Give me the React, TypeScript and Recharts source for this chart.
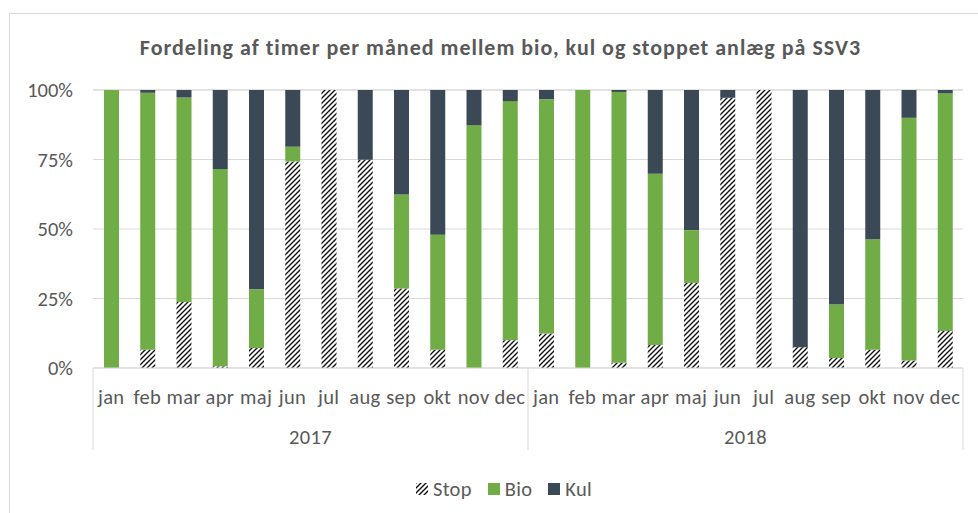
import React from 'react';
import {
  BarChart,
  Bar,
  XAxis,
  YAxis,
  CartesianGrid,
  Legend,
} from 'recharts';

const months = ['jan', 'feb', 'mar', 'apr', 'maj', 'jun', 'jul', 'aug', 'sep', 'okt', 'nov', 'dec'];
const years = ['2017', '2018'];

// andel af timer i procent pr. måned
const stop2017 = [0, 6.6, 23.7, 0.6, 7.2, 74.3, 100, 74.9, 28.6, 6.6, 0, 10.0];
const bio2017 = [100, 92.4, 73.6, 71.0, 21.1, 5.3, 0, 0, 33.8, 41.3, 87.3, 86.0];
const kul2017 = [0, 1.0, 2.7, 28.4, 71.7, 20.4, 0, 25.1, 37.6, 52.1, 12.7, 4.0];

const stop2018 = [12.4, 0, 1.9, 8.3, 30.6, 97.2, 100, 7.5, 3.6, 6.6, 2.7, 13.3];
const bio2018 = [84.3, 100, 97.4, 61.6, 19.0, 0, 0, 0, 19.2, 39.7, 87.3, 85.5];
const kul2018 = [3.3, 0, 0.7, 30.1, 50.4, 2.8, 0, 92.5, 77.2, 53.7, 10.0, 1.2];

const yTicks = [0, 25, 50, 75, 100];

const stopByYear = [stop2017, stop2018];
const bioByYear = [bio2017, bio2018];
const kulByYear = [kul2017, kul2018];

const data = years.flatMap((year, yi) =>
  months.map((month, mi) => ({
    key: `${year}-${month}`,
    month,
    year,
    stop: stopByYear[yi][mi],
    bio: bioByYear[yi][mi],
    kul: kulByYear[yi][mi],
  }))
);

const GREEN = '#70AD47';
const DARK = '#3B4856';
const TEXT = '#595959';
const GRID = '#D9D9D9';
const FONT = "Carlito, 'Open Sans', sans-serif";
const TICK_SIZE = 20.5;

const HatchDef = ({ id }: { id: string }) => (
  <pattern id={id} patternUnits="userSpaceOnUse" width={5} height={5}>
    <rect width={5} height={5} fill="#fff" />
    <path d="M0,5 L5,0 M-1,1 L1,-1 M4,6 L6,4" stroke="#111" strokeWidth={1.4} />
  </pattern>
);

const MonthTick = (props: any) => {
  const { x, y, payload, index, width } = props;
  const step = (width || 870) / data.length;
  const top = y - 21;
  const label = String(payload.value).split('-')[1] ?? payload.value;
  return (
    <g>
      <text
        x={x}
        y={y}
        dy="0.71em"
        textAnchor="middle"
        fill={TEXT}
        fontSize={TICK_SIZE}
        fontFamily={FONT}
        letterSpacing={0.3}
      >
        {label}
      </text>
      {index % months.length === 0 && (
        <line x1={x - step / 2} x2={x - step / 2} y1={top} y2={top + 82} stroke={GRID} strokeWidth={1} />
      )}
      {index === data.length - 1 && (
        <line x1={x + step / 2} x2={x + step / 2} y1={top} y2={top + 82} stroke={GRID} strokeWidth={1} />
      )}
    </g>
  );
};

const legendItems = [
  { name: 'Stop', fill: 'url(#hatch-legend)' },
  { name: 'Bio', fill: GREEN },
  { name: 'Kul', fill: DARK },
];

const LegendContent = () => (
  <div
    style={{
      display: 'flex',
      justifyContent: 'center',
      alignItems: 'center',
      columnGap: 16,
      paddingLeft: 45,
      fontFamily: FONT,
      fontSize: TICK_SIZE,
      letterSpacing: 0.3,
      color: TEXT,
      height: 24,
    }}
  >
    {legendItems.map((item) => (
      <div key={item.name} style={{ display: 'flex', alignItems: 'center' }}>
        <svg width={12} height={12} style={{ marginRight: 5 }}>
          <defs>
            <HatchDef id="hatch-legend" />
          </defs>
          <rect width={12} height={12} fill={item.fill} />
        </svg>
        <span>{item.name}</span>
      </div>
    ))}
  </div>
);

export default function App() {
  return (
    <div
      style={{
        position: 'absolute',
        left: 0,
        top: 0,
        width: 978,
        height: 513,
        overflow: 'hidden',
        background: '#fff',
        fontFamily: FONT,
      }}
    >
      <div
        style={{
          position: 'absolute',
          left: 9,
          top: 13,
          width: 1000,
          height: 600,
          border: `1px solid ${GRID}`,
        }}
      />
      <div
        style={{
          position: 'absolute',
          left: 0,
          top: 34,
          width: 1001,
          textAlign: 'center',
          fontSize: 22,
          letterSpacing: 1,
          fontWeight: 700,
          color: TEXT,
          lineHeight: '28px',
          whiteSpace: 'nowrap',
        }}
      >
        Fordeling af timer per måned mellem bio, kul og stoppet anlæg på SSV3
      </div>
      <div style={{ position: 'absolute', left: 0, top: 0 }}>
        <BarChart
          width={978}
          height={513}
          data={data}
          margin={{ top: 90, right: 15, left: 0, bottom: 12 }}
          style={{ fontFamily: FONT }}
        >
          <defs>
            <HatchDef id="hatch" />
          </defs>
          <CartesianGrid vertical={false} stroke={GRID} strokeWidth={1} />
          <XAxis
            dataKey="key"
            interval={0}
            height={45}
            tickLine={false}
            tickMargin={15}
            axisLine={{ stroke: GRID }}
            tick={<MonthTick />}
          />
          <XAxis
            xAxisId="year"
            dataKey="year"
            allowDuplicatedCategory={false}
            height={64}
            tickLine={false}
            axisLine={false}
            tickMargin={10}
            tick={{ fill: TEXT, fontSize: TICK_SIZE, fontFamily: FONT, letterSpacing: 0.3 }}
          />
          <YAxis
            width={93}
            domain={[0, 100]}
            ticks={yTicks}
            tickFormatter={(v) => `${v}%`}
            axisLine={false}
            tickLine={false}
            tickMargin={14}
            tick={{ fill: TEXT, fontSize: TICK_SIZE, fontFamily: FONT }}
          />
          <Legend verticalAlign="bottom" height={24} content={<LegendContent />} />
          <Bar dataKey="stop" name="Stop" stackId="a" fill="url(#hatch)" barSize={15} isAnimationActive={false} />
          <Bar dataKey="bio" name="Bio" stackId="a" fill={GREEN} barSize={15} isAnimationActive={false} />
          <Bar dataKey="kul" name="Kul" stackId="a" fill={DARK} barSize={15} isAnimationActive={false} />
        </BarChart>
      </div>
    </div>
  );
}
